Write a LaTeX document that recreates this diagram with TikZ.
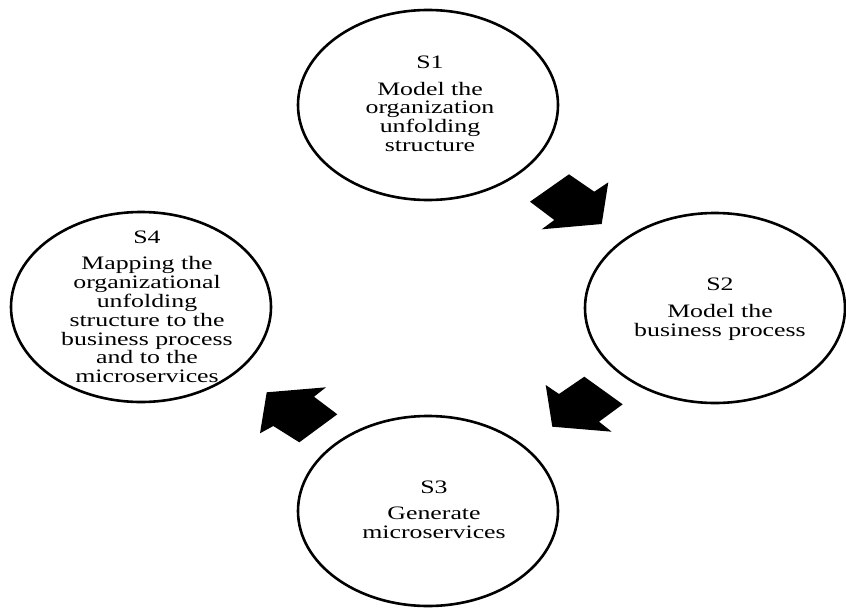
\documentclass[tikz,border=0pt]{standalone}
\usepackage{fontspec}
\setmainfont{Liberation Serif}
\usepackage{graphicx}
\usetikzlibrary{shapes.geometric}
\newcommand{\steplabel}[2]{\scalebox{1.36}[1]{\fontsize{19pt}{18.5pt}\selectfont\begin{tabular}{@{}c@{}}#1\\[8pt]#2\end{tabular}}}
\tikzset{
  ring/.style={draw=black, line width=2.6pt, ellipse, minimum width=260pt, minimum height=190pt, inner sep=0pt},
  lbl/.style={inner sep=0pt, text=black},
  blockarrow/.style={fill=black, draw=none}
}
\begin{document}
\begin{tikzpicture}[x=1pt,y=-1pt]
\useasboundingbox (0,0) rectangle (846,608);
\node[ring] (s1) at (428,105) {};
\node[ring] (s2) at (715,308) {};
\node[ring] (s3) at (428,511) {};
\node[ring] (s4) at (141,307) {};
\node[lbl] (t1) at ([xshift=2pt,yshift=-1pt]s1.center) {\steplabel{S1}{Model the\\organization\\unfolding\\structure}};
\node[lbl] (t2) at ([xshift=5pt,yshift=-2pt]s2.center) {\steplabel{S2}{Model the\\business process}};
\node[lbl] (t3) at ([xshift=6pt,yshift=-1pt]s3.center) {\steplabel{S3}{Generate\\microservices}};
\node[lbl] (t4) at ([xshift=6pt,yshift=-2pt]s4.center) {\steplabel{S4}{Mapping the\\organizational\\unfolding\\structure to the\\business process\\and to the\\microservices}};
% block arrows
\fill[blockarrow] (530,201.7) -- (569,174.3) -- (594.3,191.7) -- (608.3,182.3) -- (601.7,224) -- (541.7,229.3) -- (554.3,220) -- cycle;
\fill[blockarrow] (545.7,385) -- (559,394) -- (584.3,376.7) -- (622.7,404.3) -- (599,421.7) -- (611.7,431.7) -- (552.3,426.7) -- cycle;
\fill[blockarrow] (266.7,392.3) -- (326,387.3) -- (314,396.7) -- (337.3,414.3) -- (299.3,442.3) -- (273.3,426) -- (260,433.3) -- cycle;
\end{tikzpicture}
\end{document}
